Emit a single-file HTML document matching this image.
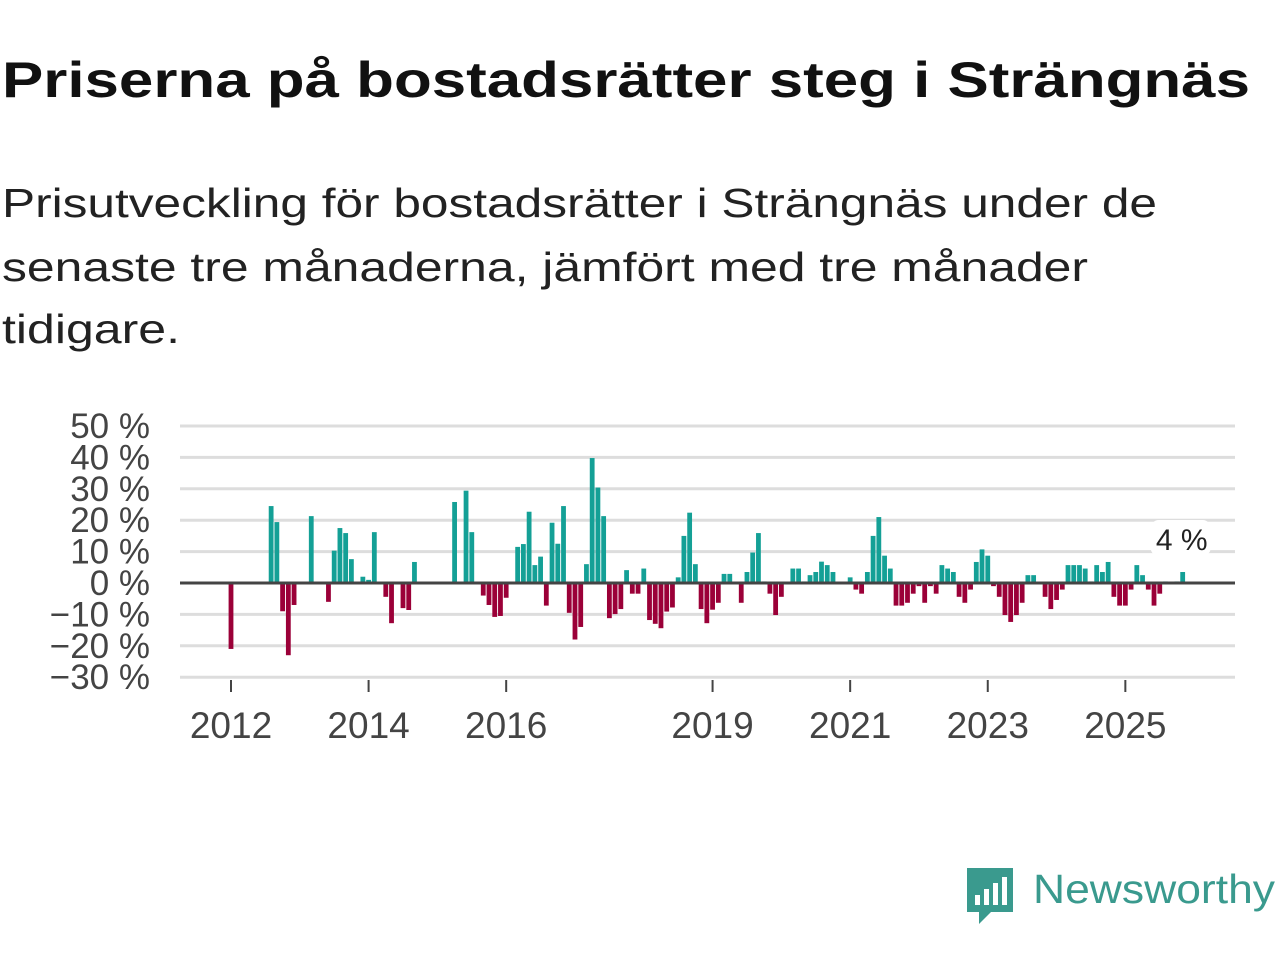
<!DOCTYPE html>
<html><head><meta charset="utf-8"><style>
html,body{margin:0;padding:0;background:#fff;}
svg{display:block;font-family:"Liberation Sans",sans-serif;}
</style></head><body>
<svg id="chart" width="1280" height="960" viewBox="0 0 1280 960">
<text x="2" y="97" font-size="50" font-weight="bold" fill="#111" textLength="1248" lengthAdjust="spacingAndGlyphs">Priserna på bostadsrätter steg i Strängnäs</text>
<g font-size="41" fill="#222">
<text x="2" y="217" textLength="1155" lengthAdjust="spacingAndGlyphs">Prisutveckling för bostadsrätter i Strängnäs under de</text>
<text x="2" y="281" textLength="1086" lengthAdjust="spacingAndGlyphs">senaste tre månaderna, jämfört med tre månader</text>
<text x="2" y="343" textLength="178" lengthAdjust="spacingAndGlyphs">tidigare.</text>
</g>
<g id="grid"></g>
<g id="yticks"></g>
<g id="bars"></g>
<line id="zero" x1="180" x2="1235" stroke="#444" stroke-width="3"/>
<g id="xticks"></g>
<g id="lastlabel"></g>
<g>
<path d="M967 868 h46 v44 h-22 l-12 12 v-12 h-12 z" fill="#3a9a8e"/>
<rect x="975" y="895" width="5" height="10" fill="#fff"/>
<rect x="984" y="889" width="5" height="16" fill="#fff"/>
<rect x="993" y="883" width="5" height="22" fill="#fff"/>
<rect x="1002" y="877" width="5" height="28" fill="#fff"/>
<text x="1033" y="903" font-size="41" fill="#3a9a8e" textLength="242" lengthAdjust="spacingAndGlyphs">Newsworthy</text>
</g>
</svg>
<script>
const months = [0,7,8,9,10,11,14,17,18,19,20,21,23,24,25,27,28,30,31,32,39,41,42,44,45,46,47,48,50,51,52,53,54,55,56,57,58,59,60,61,62,63,64,65,66,67,68,69,70,71,72,73,74,75,76,77,78,79,80,81,82,83,84,85,86,87,89,90,91,92,93,94,95,96,98,99,100,101,102,103,104,105,108,109,110,111,112,113,114,115,116,117,118,119,120,121,122,123,124,125,126,127,128,129,130,131,132,133,134,135,136,137,138,139,140,142,143,144,145,146,147,148,149,150,151,152,153,154,155,156,157,158,159,160,161,162,163,165,166];
const values = [-21,24.5,19.4,-9,-23,-7,21.3,-6,10.3,17.5,15.9,7.6,2,1,16.2,-4.4,-12.8,-8,-8.6,6.7,25.8,29.4,16.2,-4,-7,-10.8,-10.5,-4.7,11.5,12.4,22.7,5.7,8.4,-7.2,19.2,12.5,24.5,-9.5,-18,-14,6,39.8,30.4,21.3,-11.2,-9.9,-8.3,4.1,-3.4,-3.4,4.6,-11.8,-13,-14.4,-9.1,-7.8,1.8,15,22.4,6,-8.3,-12.8,-8.5,-6.3,2.9,2.9,-6.3,3.5,9.7,15.9,0.5,-3.4,-10.2,-4.4,4.6,4.6,0.5,2.5,3.5,6.8,5.7,3.5,1.8,-2.1,-3.4,3.5,15,21,8.7,4.6,-7.2,-7.2,-6.3,-3.4,-1,-6.3,-1,-3.4,5.7,4.6,3.5,-4.4,-6.3,-2.1,6.7,10.7,8.7,-1,-4.4,-10.2,-12.4,-10.2,-6.3,2.5,2.5,-4.4,-8.3,-5.4,-2.1,5.7,5.7,5.7,4.6,0.5,5.7,3.5,6.7,-4.4,-7.2,-7.2,-2.1,5.7,2.5,-2.1,-7.2,-3.4,0.5,0.5,3.5];
const yTicks = [50,40,30,20,10,0,-10,-20,-30];
const xTickYears = [2012,2014,2016,2019,2021,2023,2025];
const lastLabel = "4 %";

const NS="http://www.w3.org/2000/svg";
const y = v => 583 - v*3.14;
const xm = m => 231 + m*5.733;
const xy = yr => xm((yr-2012)*12);
function mk(tag, attrs, parent){const e=document.createElementNS(NS,tag);for(const k in attrs)e.setAttribute(k,attrs[k]);parent.appendChild(e);return e;}
const grid=document.getElementById('grid'), yt=document.getElementById('yticks'), bars=document.getElementById('bars'), xt=document.getElementById('xticks');
yTicks.forEach(t=>{
  const l=mk('line',{x1:180,x2:1235,y1:y(t),y2:y(t),stroke:'#ddd','stroke-width':3},grid);
  
  
  const tx=mk('text',{x:150,y:y(t)+12,'font-size':35,fill:'#444','text-anchor':'end'},yt);
  tx.textContent=(t<0?'\u2212'+(-t):t)+' %';
  
  
});
const z=document.getElementById('zero'); z.setAttribute('y1',y(0)); z.setAttribute('y2',y(0));
months.forEach((m,i)=>{
  const v=values[i];
  const r=mk('rect',{x:xm(m)-2.4,width:4.8,y:Math.min(y(v),y(0)),height:Math.abs(y(v)-y(0)),fill:v>=0?'#14a096':'#9b0038'},bars);
  
  
});
xTickYears.forEach(yr=>{
  const l=mk('line',{x1:xy(yr),x2:xy(yr),y1:680,y2:692,stroke:'#444','stroke-width':2},xt);
  
  
  const tx=mk('text',{x:xy(yr),y:738,'font-size':37,fill:'#444','text-anchor':'middle'},xt);
  tx.textContent=yr;
  
  
});
const ll=document.getElementById('lastlabel');
const lm=months[months.length-1];
mk('rect',{x:xm(lm)-32,y:520,width:60,height:36,fill:'#fff',rx:8},ll);
const lt=mk('text',{x:xm(lm)-1,y:550,'font-size':30,fill:'#222','text-anchor':'middle'},ll);
lt.textContent=lastLabel;


</script>
</body></html>
